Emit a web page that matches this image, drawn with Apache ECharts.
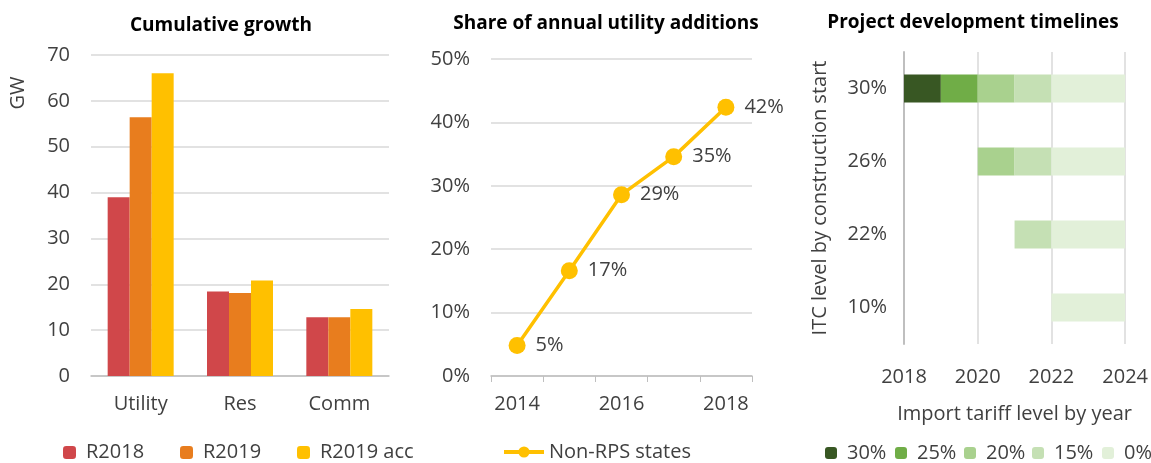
<!DOCTYPE html>
<html>
<head>
<meta charset="utf-8">
<script src="https://cdn.jsdelivr.net/npm/echarts@6/dist/echarts.min.js"></script>
<style>
  html, body { margin: 0; padding: 0; background: #fff; }
  #chart { width: 1151px; height: 463px; }
</style>
</head>
<body>
<div id="chart"></div>
<script>
// panel 1: cumulative growth (GW)
const segments = ['Utility', 'Res', 'Comm'];
const r2018 = [39.0, 18.4, 12.8];
const r2019 = [56.4, 18.1, 12.8];
const r2019acc = [66.0, 20.8, 14.6];

// panel 2: non-RPS share of annual utility additions (%)
const years = ['2014', '2015', '2016', '2017', '2018'];
const nonRps = [4.8, 16.6, 28.6, 34.6, 42.4];

// panel 3: ITC level rows, start year and years at each tariff level
const itcLevels = ['30%', '26%', '22%', '10%'];
const startYear = [2018, 2020, 2021, 2022];
const tariffNames = ['30%', '25%', '20%', '15%', '0%'];
const tariffYears = [
    [1, 0, 0, 0],
    [1, 0, 0, 0],
    [1, 1, 0, 0],
    [1, 1, 1, 0],
    [2, 2, 2, 2]
];

const FONT = '"Open Sans", "Noto Sans", sans-serif';
const TXT = '#404040';
const GRID_LINE = '#D9D9D9';
const AXIS_LINE = '#BFBFBF';
const barColors = ['#D0474A', '#E87D1E', '#FFC000'];
const greens = ['#385723', '#70AD47', '#A9D18E', '#C5E0B4', '#E2F0D9'];

let myChart, option;

function titleAt(text, x, y) {
    return {
        text: text, left: x, top: y, textAlign: 'center', padding: 0,
        textStyle: { fontFamily: FONT, fontSize: 19, fontWeight: 'bold', color: '#000' }
    };
}

function legendAt(name, x, w, h) {
    return {
        data: [name], left: x, top: 451, itemWidth: w, itemHeight: h, itemGap: 0, padding: 0,
        textStyle: { fontFamily: FONT, fontSize: 20, color: TXT, padding: [0, 0, 0, 5] }
    };
}

const labelStyle = { fontFamily: FONT, fontSize: 20, color: TXT };

let series = [];
[r2018, r2019, r2019acc].forEach(function (d, i) {
    series.push({
        name: ['R2018', 'R2019', 'R2019 acc'][i],
        type: 'bar', xAxisIndex: 0, yAxisIndex: 0,
        barWidth: 22, barGap: '0%',
        itemStyle: { color: barColors[i] },
        data: d
    });
});

series.push({
    name: 'Non-RPS states',
    type: 'line', xAxisIndex: 1, yAxisIndex: 1,
    symbol: 'circle', symbolSize: 17,
    lineStyle: { color: '#FFC000', width: 3.5 },
    itemStyle: { color: '#FFC000' },
    label: {
        show: true, position: 'right', distance: 10,
        fontFamily: FONT, fontSize: 20, color: TXT,
        formatter: function (p) { return Math.round(p.value) + '%'; }
    },
    data: nonRps
});

// transparent offset so every row starts at its first year
series.push({
    name: 'start', type: 'bar', stack: 'tl', xAxisIndex: 2, yAxisIndex: 2,
    barWidth: 28, silent: true,
    itemStyle: { color: 'transparent' },
    data: startYear
});
tariffNames.forEach(function (n, i) {
    series.push({
        name: n, type: 'bar', stack: 'tl', xAxisIndex: 2, yAxisIndex: 2,
        barWidth: 28,
        itemStyle: { color: greens[i] },
        data: tariffYears[i]
    });
});

let legends = [
    legendAt('R2018', 63, 13, 13),
    legendAt('R2019', 180, 13, 13),
    legendAt('R2019 acc', 297, 13, 13),
    legendAt('Non-RPS states', 502, 40, 14)
];
legends[3].textStyle.padding = [0, 0, 0, 0];
legends[3].lineStyle = { width: 4 };
[825, 895, 964, 1032, 1102].forEach(function (x, i) {
    legends.push(legendAt(tariffNames[i], x, 12, 12));
});
legends.forEach(function (l) { l.top = 452 - l.itemHeight / 2 - 3; });

myChart = echarts.init(document.getElementById('chart'), null, { renderer: 'canvas' });
option = {
    animation: false,
    textStyle: { fontFamily: FONT },
    title: [
        titleAt('Cumulative growth', 221, 16),
        titleAt('Share of annual utility additions', 606, 14),
        titleAt('Project development timelines', 973, 13)
    ],
    legend: legends,
    graphic: [{
        type: 'text', x: 18, y: 93, rotation: Math.PI / 2,
        style: { text: 'GW', font: '20px ' + FONT, fill: TXT, align: 'center', verticalAlign: 'middle' }
    }],
    grid: [
        { left: 91, top: 55, width: 298, height: 321 },
        { left: 491, top: 59, width: 261, height: 317 },
        { left: 904, top: 52, width: 224, height: 292 }
    ],
    xAxis: [{
        gridIndex: 0, type: 'category', data: segments,
        axisLine: { lineStyle: { color: AXIS_LINE, width: 1.5 } },
        axisTick: { show: false },
        axisLabel: Object.assign({ margin: 18 }, labelStyle)
    }, {
        gridIndex: 1, type: 'category', data: years,
        axisLine: { lineStyle: { color: AXIS_LINE, width: 1.5 } },
        axisTick: { show: true, interval: 0, length: 6, lineStyle: { color: AXIS_LINE } },
        axisLabel: Object.assign({ margin: 18, interval: 1 }, labelStyle)
    }, {
        gridIndex: 2, type: 'value', min: 2018, max: 2024, interval: 2,
        axisLine: { show: false },
        axisTick: { show: false },
        splitLine: { show: true, lineStyle: { color: GRID_LINE, width: 1.5 } },
        axisLabel: Object.assign({ margin: 23, formatter: function (v) { return String(v); } }, labelStyle),
        name: 'Import tariff level by year', nameLocation: 'middle', nameGap: 60,
        nameTextStyle: labelStyle
    }],
    yAxis: [{
        gridIndex: 0, type: 'value', min: 0, max: 70, interval: 10,
        axisLine: { show: false },
        axisTick: { show: false },
        splitLine: { lineStyle: { color: GRID_LINE, width: 1.5 } },
        axisLabel: Object.assign({ margin: 21 }, labelStyle)
    }, {
        gridIndex: 1, type: 'value', min: 0, max: 50, interval: 10,
        axisLine: { show: false },
        axisTick: { show: false },
        splitLine: { lineStyle: { color: GRID_LINE, width: 1.5 } },
        axisLabel: Object.assign({ margin: 21, formatter: '{value}%' }, labelStyle)
    }, {
        gridIndex: 2, type: 'category', data: itcLevels, inverse: true,
        axisLine: { show: true, lineStyle: { color: AXIS_LINE, width: 2 } },
        axisTick: { show: false },
        axisLabel: Object.assign({ margin: 17 }, labelStyle),
        name: 'ITC level by construction start', nameLocation: 'middle', nameGap: 74,
        nameTextStyle: labelStyle
    }],
    series: series
};
myChart.setOption(option);
</script>
</body>
</html>
